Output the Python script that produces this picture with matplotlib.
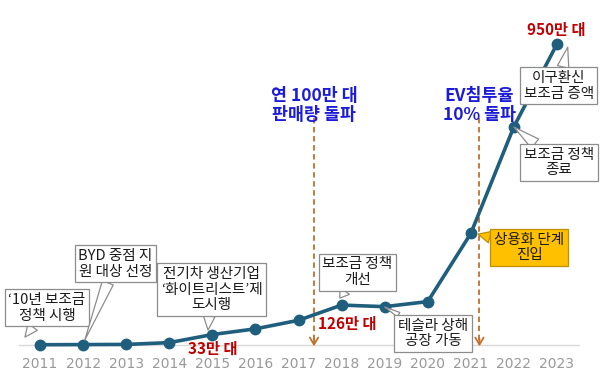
import matplotlib.pyplot as plt

plt.rcParams['font.family'] = ['Noto Sans CJK KR', 'DejaVu Sans']

# 중국 전기차 판매량 (만 대)
years = [2011, 2012, 2013, 2014, 2015, 2016, 2017, 2018, 2019, 2020, 2021, 2022, 2023]
sales = [0.8, 1.3, 1.8, 7.5, 33, 51, 78, 126, 121, 137, 352, 689, 950]

# 빨간 판매량 라벨
label_years = [2015, 2018, 2023]
label_texts = ['33만 대', '126만 대', '950만 대']

# 파란 이정표 (점선 화살표)
milestone_texts = ['연 100만 대\n판매량 돌파', 'EV침투율\n10% 돌파']

# 말풍선 설명
callout_texts = ["‘10년 보조금\n정책 시행",
                 'BYD 중점 지\n원 대상 선정',
                 '전기차 생산기업\n‘화이트리스트’제\n도시행',
                 '보조금 정책\n개선',
                 '테슬라 상해\n공장 가동',
                 '상용화 단계\n진입',
                 '보조금 정책\n종료',
                 '이구환신\n보조금 증액']

line_color = '#205e7e'
red = '#c00000'
blue = '#1c1cd8'
brown = '#c0702a'

fig = plt.figure(figsize=(6, 3.78), dpi=100)
ax = fig.add_axes([18.5 / 600, 1 - 345 / 378, 560 / 600, 345 / 378])
ax.set_xlim(2010.5, 2023.5)
ax.set_ylim(0, 1089)

ax.plot(years, sales, color=line_color, lw=2.6, marker='o', ms=7.5,
        clip_on=False, zorder=3)

for s in ['top', 'right', 'left']:
    ax.spines[s].set_visible(False)
ax.spines['bottom'].set_color('#d9d9d9')
ax.spines['bottom'].set_linewidth(1)
ax.set_yticks([])
ax.set_xticks(years)
ax.set_xticklabels([str(y) for y in years], family='DejaVu Sans',
                   fontsize=10, color='#999999')
ax.tick_params(axis='x', length=0, pad=9)

# 판매량 라벨
label_pos = [(2015.02, -13), (2018.13, 66), (2022.98, 994)]
for t, (x, y) in zip(label_texts, label_pos):
    ax.text(x, y, t, color=red, fontsize=11, fontweight='bold',
            ha='center', va='center', clip_on=False, zorder=5)

# 이정표 점선 화살표
ms_x = [2017.36, 2021.2]
for t, x in zip(milestone_texts, ms_x):
    ax.text(x, 757, t, color=blue, fontsize=12.5, fontweight='bold',
            ha='center', va='center', linespacing=1.05)
    ax.plot([x, x], [716, 5], color=brown, lw=1.3, ls=(0, (3, 2)))
    ax.annotate('', xy=(x, -4), xytext=(x, 20),
                arrowprops=dict(arrowstyle='->,head_length=0.5,head_width=0.3',
                                color=brown, lw=1.3, shrinkA=0, shrinkB=0),
                annotation_clip=False)

# 말풍선
callout_xytext = [(2011.16, 117), (2012.75, 256), (2014.98, 175), (2018.37, 230),
                  (2020.12, 36), (2022.35, 308), (2023.05, 576), (2023.04, 818)]
callout_xy = [(2010.65, 25), (2012.04, 16), (2014.9, 47), (2017.96, 148),
              (2019.0, 120), (2021.17, 350), (2022.0, 688), (2023.25, 940)]
for i, t in enumerate(callout_texts):
    fc, ec = ('#ffc000', '#bf9000') if i == 5 else ('white', '#8c8c8c')
    tw = 0.35 if i == 4 else 0.8
    ax.annotate(t, xy=callout_xy[i], xytext=callout_xytext[i],
                ha='center', va='center', fontsize=10.5, linespacing=1.15,
                color='#1a1a1a', zorder=6, annotation_clip=False,
                bbox=dict(boxstyle='square,pad=0.25', fc=fc, ec=ec, lw=0.9),
                arrowprops=dict(arrowstyle=f'wedge,tail_width={tw}', fc=fc,
                                ec=ec, lw=0.9, shrinkA=0, shrinkB=0))

fig.savefig('out.png', dpi=100)
